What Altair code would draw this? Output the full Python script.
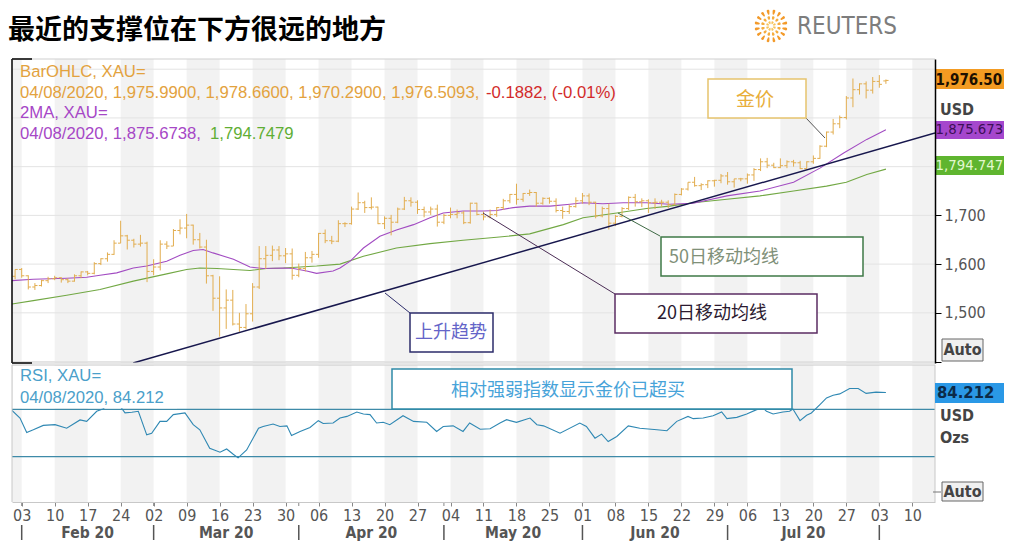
import altair as alt
import pandas as pd

# ---------------- data ----------------
trade_days = pd.bdate_range("2020-01-31", "2020-08-04")

opens = [1575,
         1589, 1576, 1553, 1556, 1566, 1570, 1572, 1568, 1565, 1576,
         1584, 1581, 1601, 1611, 1620, 1643, 1658, 1649, 1641, 1643,
         1585, 1594, 1641, 1637, 1669, 1674, 1680, 1650, 1635, 1576,
         1530, 1510, 1526, 1477, 1470, 1498, 1553, 1611, 1618, 1629, 1617, 1621,
         1577, 1591, 1613, 1620, 1663, 1648, 1647, 1683, 1683, 1713, 1726,
         1716, 1717, 1683, 1694, 1686, 1713, 1730, 1727, 1712, 1707, 1713,
         1686, 1700, 1702, 1705, 1685, 1725, 1702, 1697, 1702, 1716, 1730,
         1743, 1733, 1745, 1747, 1725, 1735, 1729, 1710, 1708, 1718,
         1730, 1740, 1727, 1699, 1714, 1684, 1698, 1714, 1737, 1728, 1730,
         1726, 1727, 1727, 1722, 1743, 1754, 1768, 1761, 1763, 1771, 1772,
         1781, 1769, 1775, 1775, 1783, 1794, 1810, 1803, 1798, 1802, 1810,
         1808, 1796, 1810, 1817, 1842, 1871, 1888, 1901, 1941, 1958, 1970, 1957,
         1975, 1976]
highs = [1589,
         1592, 1577, 1561, 1568, 1574, 1576, 1573, 1571, 1579, 1585,
         1586, 1604, 1612, 1624, 1649, 1689, 1660, 1652, 1660, 1646,
         1610, 1649, 1647, 1672, 1692, 1703, 1681, 1664, 1650, 1578,
         1575, 1548, 1547, 1500, 1518, 1561, 1637, 1637, 1638, 1637, 1633, 1632,
         1601, 1625, 1627, 1664, 1671, 1658, 1690, 1686, 1718, 1747, 1730,
         1737, 1718, 1698, 1701, 1716, 1738, 1737, 1731, 1718, 1718, 1722,
         1703, 1716, 1712, 1709, 1726, 1726, 1708, 1712, 1717, 1734, 1744,
         1765, 1746, 1753, 1748, 1737, 1737, 1735, 1718, 1722, 1737,
         1746, 1745, 1728, 1718, 1724, 1701, 1717, 1739, 1744, 1735, 1733,
         1735, 1732, 1731, 1745, 1756, 1768, 1779, 1766, 1772, 1773, 1785,
         1789, 1775, 1777, 1786, 1797, 1817, 1818, 1808, 1817, 1813, 1814,
         1812, 1811, 1823, 1844, 1872, 1898, 1905, 1945, 1981, 1971, 1975, 1984,
         1988, 1979]
lows = [1569,
        1572, 1548, 1547, 1554, 1561, 1567, 1562, 1561, 1564, 1571,
        1577, 1579, 1598, 1605, 1619, 1643, 1630, 1634, 1636, 1563,
        1577, 1587, 1631, 1637, 1661, 1653, 1640, 1632, 1560, 1504,
        1451, 1467, 1474, 1461, 1466, 1482, 1549, 1590, 1606, 1608, 1602, 1568,
        1573, 1585, 1603, 1613, 1643, 1641, 1645, 1676, 1681, 1711, 1705,
        1712, 1682, 1672, 1659, 1684, 1711, 1718, 1703, 1696, 1701, 1677,
        1682, 1694, 1694, 1682, 1683, 1700, 1690, 1694, 1697, 1711, 1725,
        1722, 1728, 1740, 1718, 1722, 1724, 1706, 1693, 1703, 1716,
        1724, 1721, 1694, 1696, 1671, 1678, 1696, 1711, 1718, 1717, 1705,
        1713, 1718, 1715, 1721, 1741, 1751, 1759, 1752, 1756, 1759, 1766,
        1763, 1757, 1770, 1765, 1771, 1791, 1797, 1797, 1797, 1797, 1800,
        1795, 1796, 1806, 1816, 1840, 1866, 1879, 1897, 1922, 1948, 1940, 1950,
        1962, 1970]
closes = [1589,
          1576, 1553, 1556, 1566, 1570, 1572, 1568, 1565, 1576, 1584,
          1581, 1601, 1611, 1620, 1643, 1658, 1649, 1641, 1643, 1585,
          1594, 1641, 1637, 1669, 1674, 1680, 1650, 1635, 1576, 1530,
          1510, 1526, 1477, 1470, 1498, 1553, 1611, 1618, 1629, 1617, 1621, 1577,
          1591, 1613, 1620, 1663, 1648, 1647, 1683, 1683, 1713, 1726, 1716,
          1717, 1683, 1694, 1686, 1713, 1730, 1727, 1712, 1707, 1713, 1686,
          1700, 1702, 1705, 1685, 1725, 1702, 1697, 1702, 1716, 1730, 1743,
          1733, 1745, 1747, 1725, 1735, 1729, 1710, 1708, 1718, 1730,
          1740, 1727, 1699, 1714, 1684, 1698, 1714, 1737, 1728, 1730, 1726,
          1727, 1727, 1722, 1743, 1754, 1768, 1761, 1763, 1771, 1772, 1781,
          1769, 1775, 1775, 1783, 1794, 1810, 1803, 1798, 1802, 1810, 1808,
          1796, 1810, 1817, 1842, 1871, 1888, 1901, 1941, 1958, 1970, 1957, 1975,
          1969, 1977]

ma20_pos = [-0.47, 2.76, 7.82, 10.85, 12.87, 15.4, 17.92, 19.95, 22.98, 25.0, 27.0, 28.5,
            30.0, 33.1, 35.6, 37.6, 40.7, 42.2, 44.2, 45.7, 48.2, 49.25, 50.8, 52.8, 55.3,
            57.8, 60.4, 62.9, 64.9, 67.9, 71.0, 73.0, 75.5, 78.0, 81.1, 84.1, 86.1, 89.1,
            92.2, 95.7, 99.2, 102.8, 107.9, 112.9, 118.0, 122.0, 125.6, 129.1, 132.0]
ma20_val = [1566, 1569, 1571, 1573, 1577, 1582, 1592, 1596, 1606, 1618, 1628, 1630,
            1623, 1610, 1594, 1591, 1592, 1591, 1586, 1581, 1586, 1592, 1606, 1633, 1657,
            1670, 1681, 1695, 1705, 1709, 1709, 1710, 1716, 1719, 1719, 1723, 1726, 1724,
            1726, 1726, 1723, 1725, 1740, 1750, 1768, 1797, 1828, 1856, 1876]

ma50_pos = [-0.47, 2.76, 7.82, 12.87, 17.92, 22.98, 26.0, 28.0, 30.6, 35.6, 38.1, 40.7,
            45.7, 49.25, 52.8, 57.8, 62.9, 67.9, 73.0, 78.0, 83.1, 86.1, 91.2, 95.7, 99.2,
            102.8, 107.9, 112.9, 118.0, 123.0, 126.0, 129.1, 132.0]
ma50_val = [1518, 1525, 1536, 1548, 1565, 1580, 1589, 1592, 1591, 1587, 1591, 1592,
            1596, 1600, 1616, 1633, 1642, 1649, 1655, 1662, 1681, 1695, 1705, 1714, 1719,
            1726, 1733, 1740, 1750, 1760, 1768, 1784, 1795]

rsi_pos = [-0.47, 0.74, 1.76, 2.76, 4.27, 6.05, 7.82, 9.84, 10.85, 12.37, 13.37, 14.2,
           15.2, 16.0, 16.66, 17.7, 18.68, 19.95, 20.7, 21.96, 22.98, 23.98, 25.75, 27.0,
           28.0, 29.5, 31.06, 32.07, 33.07, 33.8, 35.1, 36.9, 37.6, 39.1, 40.15, 41.2,
           41.9, 43.2, 44.7, 45.96, 46.7, 48.2, 49.25, 50.3, 51.8, 52.8, 53.8, 54.8, 55.8,
           56.8, 58.8, 60.4, 62.4, 63.9, 64.9, 66.4, 67.9, 68.9, 70.5, 72.0, 73.5, 74.5,
           76.0, 78.05, 79.1, 80.1, 82.6, 85.6, 86.6, 87.9, 88.9, 89.9, 91.2, 92.95, 94.7,
           97.3, 98.8, 100.3, 102.0, 102.8, 104.3, 105.8, 107.1, 107.9, 109.4, 110.9,
           112.4, 113.4, 113.9, 114.9, 116.4, 117.4, 117.9, 118.98, 119.98, 120.7, 122.0,
           123.0, 124.0, 125.0, 126.5, 127.8, 129.0, 130.5, 132.0]
rsi_val = [69, 62.6, 50.4, 52.7, 56.4, 57, 54, 61, 59.8, 68.3, 70.5, 75,
           78, 72, 67, 67.5, 68.3, 48.4, 49.8, 59.8, 59.8, 65.5, 66.9, 57,
           52.7, 37, 33.7, 36.5, 32, 29, 35.7, 54, 55.5, 57.5, 55.5, 56,
           47.9, 51.3, 54.7, 60.4, 58, 58.4, 62.6, 64, 67.7, 66, 65.5, 58.4, 59,
           57, 64.6, 59.8, 59, 51.3, 55.5, 56, 51.3, 58.4, 53.2, 53.6, 58.4, 61.2,
           59, 62.6, 57, 56, 49.8, 58.4, 55.5, 45.6, 49, 42.8, 47, 56, 54,
           52.7, 51.9, 59.8, 64, 62.1, 62.6, 64.6, 67.7, 62.1, 63.2, 66,
           69.7, 71, 68.3, 66, 67.7, 68.3, 70.3, 60.4, 64.9, 66.9, 74,
           79.6, 81.9, 83, 87.6, 87.6, 83.4, 84.5, 84.2]

trend_pos = [17.9, 139.44]
trend_val = [1397, 1869]
rsi_levels = [70, 30]
price_grid = [1400, 1500, 1600, 1700, 1800, 1900, 2000]
price_ticks = [1400, 1500, 1600, 1700]
month_names = ["Feb 20", "Mar 20", "Apr 20", "May 20", "Jun 20", "Jul 20"]
logo_rings = [16, 12, 8]  # dots per ring of the logo, outer to inner

assert len(opens) == len(highs) == len(lows) == len(closes) == len(trade_days)
assert len(rsi_pos) == len(rsi_val)

# ---------------- derived layout helpers ----------------
day_idx = list(range(len(trade_days)))
mondays = pd.date_range("2020-02-03", "2020-08-10", freq="W-MON")
mon_idx = [1 + 5 * k for k in range(len(mondays))]
tick_labels = [d.strftime("%d") for d in mondays]
stripe_start = [s for s in [-4] + mon_idx if (s - 6) % 10 == 0]
month_start = [i for i in day_idx[1:] if trade_days[i].month != trade_days[i - 1].month]
month_mid = [(month_start[k] + month_start[k + 1]) / 2 for k in range(len(month_names))]

LAT = "DejaVu Sans Condensed, DejaVu Sans, sans-serif"
ARL = "Liberation Sans, Arial, sans-serif"
CJK = "Noto Sans CJK SC"

GOLD = "#e2ad4f"
GOLD_T = "#e3a23e"
RED = "#d22a2a"
PURP = "#a24cc2"
PURP_T = "#a647c6"
GREEN = "#72a844"
GREEN_T = "#5fae34"
RSI_C = "#2f88b3"

W, H1, H2 = 923, 304, 137
RX = 992  # right limit of drawn content (view px)
xs = alt.Scale(domain=[-0.47, 139.44], nice=False, zero=False)
ys = alt.Scale(domain=[1397, 2021], nice=False, zero=False)
rs = alt.Scale(domain=[-8.3, 107.4], nice=False, zero=False)

yax = alt.Axis(orient="right", values=price_ticks,
               labelExpr="datum.value >= 1500 ? format(datum.value, ',') : ''",
               title=None, grid=False, domainColor="#000", domainWidth=1.5,
               tickColor="#000", tickSize=6, labelFont=LAT, labelFontSize=16,
               labelColor="#555", labelPadding=3, zindex=1)
lab_expr = "[" + ",".join("'%s'" % t for t in tick_labels) + "][round((datum.value - 1) / 5)]"
xax = alt.Axis(orient="bottom", values=mon_idx, labelExpr=lab_expr, title=None, grid=False,
               domainColor="#c8c8c8", tickColor="#888", tickSize=4, labelFont=LAT,
               labelFontSize=16, labelColor="#555", labelPadding=1.5,
               labelOverlap=False, labelFlush=False, labelBound=False, zindex=1)


def X0(f):
    return alt.X(f, scale=xs, axis=None)


def Y0(f):
    return alt.Y(f, scale=ys, axis=yax)


def X1(f):
    return alt.X(f, scale=xs, axis=xax)


def R(f):
    return alt.Y(f, scale=rs, axis=None)


one = pd.DataFrame({"k": [0]})


def box(x1, y1, x2, y2, fill="white", stroke=None, sw=1.5):
    kw = dict(fill=fill)
    if stroke:
        kw.update(stroke=stroke, strokeWidth=sw)
    return alt.Chart(one).mark_rect(**kw).encode(
        x=alt.value(x1), x2=alt.value(x2), y=alt.value(y1), y2=alt.value(y2))


def seg(x1, y1, x2, y2, color, sw=1.0):
    return alt.Chart(one).mark_rule(color=color, strokeWidth=sw).encode(
        x=alt.value(x1), x2=alt.value(x2), y=alt.value(y1), y2=alt.value(y2))


def label(x, y, s, color, size, font=LAT, weight="normal", align="left",
          baseline="middle", limit=None):
    kw = {}
    if limit:
        kw.update(limit=limit, ellipsis="\u200b")
    return alt.Chart(one).mark_text(text=s, color=color, fontSize=size, font=font,
                                    fontWeight=weight, align=align, baseline=baseline,
                                    **kw).encode(x=alt.value(x), y=alt.value(y))


def ring(n, r0, r1, cx, cy, color):
    d = pd.DataFrame({"v": [1.0 / n] * n})
    return alt.Chart(d).mark_arc(innerRadius=r0, outerRadius=r1, padAngle=0.16,
                                 cornerRadius=1.5, color=color).encode(
        theta=alt.Theta("v:Q", stack=True, scale=alt.Scale(domain=[0, 1])),
        x=alt.value(cx), y=alt.value(cy))


# ---------------- main (price) panel ----------------
bands = pd.DataFrame({"b0": stripe_start, "b1": [s + 5 for s in stripe_start]})
ohlc = pd.DataFrame({"i": day_idx, "o": opens, "h": highs, "l": lows, "c": closes})

main_layers = [
    alt.Chart(bands).mark_rect(color="#f2f2f2", clip=True).encode(
        x=X0("b0:Q"), x2="b1:Q", y=alt.value(0), y2=alt.value(H1)),
    alt.Chart(pd.DataFrame({"g": price_grid})).mark_rule(color="#e3e3e3", strokeWidth=1).encode(
        y=Y0("g:Q")),
    alt.Chart(pd.DataFrame({"p": ma50_pos, "v": ma50_val})).mark_line(
        color=GREEN, strokeWidth=1.1, clip=True).encode(x=X0("p:Q"), y=Y0("v:Q")),
    alt.Chart(pd.DataFrame({"p": ma20_pos, "v": ma20_val})).mark_line(
        color=PURP, strokeWidth=1.1, clip=True).encode(x=X0("p:Q"), y=Y0("v:Q")),
    alt.Chart(ohlc).mark_rule(color=GOLD, strokeWidth=1).encode(
        x=X0("i:Q"), y=Y0("l:Q"), y2="h:Q"),
    alt.Chart(ohlc).transform_calculate(il="datum.i - 0.4").mark_rule(
        color=GOLD, strokeWidth=1).encode(x=X0("il:Q"), x2="i:Q", y=Y0("o:Q")),
    alt.Chart(ohlc).transform_calculate(ir="datum.i + 0.4").mark_rule(
        color=GOLD, strokeWidth=1).encode(x=X0("i:Q"), x2="ir:Q", y=Y0("c:Q")),
    alt.Chart(pd.DataFrame({"p": trend_pos, "v": trend_val})).mark_line(
        color="#17174d", strokeWidth=1.5, clip=True).encode(x=X0("p:Q"), y=Y0("v:Q")),
    # frame
    seg(0, 0, 0, H1, "#000", 1.5),
    seg(0, 0, W, 0, "#cfcfcf", 1),
    seg(0, H1, W, H1, "#cfcfcf", 1),
    seg(0, H1, 20, H1, "#000", 1.5),
    seg(0, 0, 20, 0, "#000", 1.5),
    # legend
    label(8, 13, "BarOHLC, XAU=", GOLD_T, 16.7, ARL),
    label(8, 34, "04/08/2020, 1,975.9900, 1,978.6600, 1,970.2900, 1,976.5093,", GOLD_T, 16.7, ARL),
    label(474, 34, "-0.1882, (-0.01%)", RED, 16.7, ARL),
    label(8, 54, "2MA, XAU=", PURP_T, 16.7, ARL),
    label(8, 75, "04/08/2020, 1,875.6738,", PURP_T, 16.7, ARL),
    label(198, 75, "1,794.7479", GREEN_T, 16.7, ARL),
    # annotations
    seg(794, 59, 813, 79, "#555", 1),
    box(696, 20, 794, 59, "white", "#e6c46e", 1.5),
    label(743, 41, "金价", "#e8ae3a", 19, CJK, align="center"),
    seg(648, 177, 606, 154, "#3f6a45", 1),
    box(649, 178, 851, 217, "white", "#3f7a47", 1.5),
    label(712, 199, "50日移动均线", "#7f9078", 18, CJK, align="center"),
    seg(603, 235, 471, 154, "#4b2d55", 1),
    box(603, 235, 805, 274, "white", "#5b2d63", 1.5),
    label(700, 255, "20日移动均线", "#2b1a30", 18, CJK, align="center"),
    seg(398, 254, 373, 234, "#2d2d6b", 1),
    box(398, 254, 481, 293, "white", "#2d2d6b", 1.5),
    label(439, 274, "上升趋势", "#6464c8", 18, CJK, align="center"),
    # right-hand value boxes
    box(923, 10, RX, 30, "#f39b22"),
    label(923.5, 20.5, "1,976.50", "#1c1000", 15, LAT, "bold"),
    label(928, 51, "USD", "#444", 16, LAT, "bold"),
    box(923, 62, RX, 80, "#a547cd"),
    label(923.5, 71, "1,875.6738", "#3d0f58", 14.8, LAT, limit=RX - 923.5),
    box(923, 97, RX, 116, "#5fb52f"),
    label(923.5, 106.5, "1,794.7479", "#e3f8cf", 14.8, LAT, limit=RX - 923.5),
    box(930, 280, 971, 302, "#f0f0f0", "#666", 1),
    label(950.5, 291, "Auto", "#444", 16, LAT, "bold", align="center"),
    # title + logo (above the plot)
    seg(0, -50, 1, -50, "white", 0.5),
    label(-4, -28, "最近的支撑位在下方很远的地方", "#000", 27, CJK, "bold"),
    ring(logo_rings[0], 11.5, 16.5, 759, -33, "#f39a2a"),
    ring(logo_rings[1], 6.5, 10.0, 759, -33, "#f5ad3f"),
    ring(logo_rings[2], 2.0, 5.0, 759, -33, "#f7c35a"),
    label(785, -32, "REUTERS", "#7d7d7d", 24, LAT),
]
main = alt.layer(*main_layers).properties(width=W, height=H1)

# ---------------- RSI panel ----------------
rsi_layers = [
    alt.Chart(bands).mark_rect(color="#f2f2f2", clip=True).encode(
        x=X1("b0:Q"), x2="b1:Q", y=alt.value(0), y2=alt.value(H2)),
    alt.Chart(pd.DataFrame({"lv": rsi_levels})).mark_rule(color="#3e8aa8", strokeWidth=1.2).encode(
        y=R("lv:Q")),
    alt.Chart(pd.DataFrame({"p": rsi_pos, "v": rsi_val})).mark_line(
        color=RSI_C, strokeWidth=1.1, clip=True).encode(x=X1("p:Q"), y=R("v:Q")),
    seg(0, 0, 0, H2, "#c8c8c8", 1),
    seg(0, 0, W, 0, "#c8c8c8", 1),
    seg(W, 0, W, H2, "#c8c8c8", 1),
    box(1, 1, 165, 43.3, "white"),
    label(8, 11, "RSI, XAU=", "#4b9fca", 16.7, ARL),
    label(8, 33, "04/08/2020, 84.212", "#4b9fca", 16.7, ARL),
    box(380, 4, 780, 44, "white", "#2f8aa8", 1.5),
    label(556, 26, "相对强弱指数显示金价已超买", "#47a3d9", 18, CJK, align="center"),
    box(923, 18, RX, 38, "#2a98e6"),
    label(925, 28, "84.212", "#0c2a48", 16.5, LAT, "bold"),
    label(928, 50.5, "USD", "#444", 16, LAT, "bold"),
    label(928, 72.7, "Ozs", "#444", 16, LAT, "bold"),
    seg(921, 127, 929, 127, "#777", 1),
    box(930, 117, 971, 136, "#f0f0f0", "#666", 1),
    label(950.5, 126.5, "Auto", "#444", 16, LAT, "bold", align="center"),
    # month row
    alt.Chart(pd.DataFrame({"m": month_start})).mark_rule(color="#888", strokeWidth=1).encode(
        x=X1("m:Q"), y=alt.value(H2), y2=alt.value(H2 + 4)),
    alt.Chart(pd.DataFrame({"m": month_start})).mark_rule(color="#555", strokeWidth=1.5).encode(
        x=X1("m:Q"), y=alt.value(160), y2=alt.value(175)),
    alt.Chart(pd.DataFrame({"mid": month_mid, "name": month_names})).mark_text(
        font=LAT, fontWeight="bold", fontSize=15.5, color="#555", baseline="middle").encode(
        x=X1("mid:Q"), y=alt.value(167.5), text="name:N"),
]
rsi = alt.layer(*rsi_layers).properties(width=W, height=H2)

chart = alt.vconcat(main, rsi, spacing=2, bounds="flush").properties(
    padding={"left": 0, "right": 0, "top": 0, "bottom": 0}
).configure_view(stroke=None)

chart.save("out.html", embed_options={"renderer": "svg", "actions": False})
